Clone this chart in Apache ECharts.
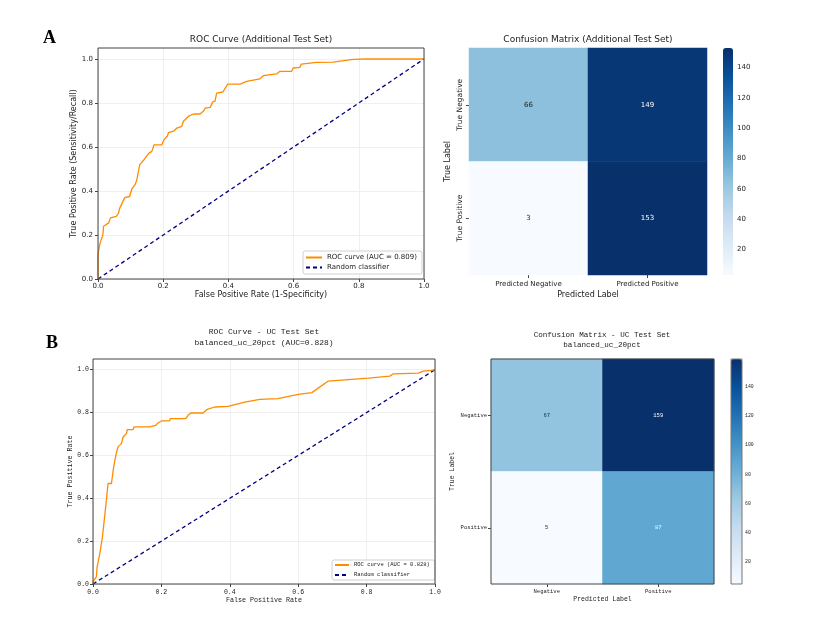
<!DOCTYPE html>
<html>
<head>
<meta charset="utf-8">
<script src="https://cdn.jsdelivr.net/npm/echarts@6/dist/echarts.min.js"></script>
<style>
  html, body { margin: 0; padding: 0; background: #fff; }
  #main { width: 832px; height: 621px; }
</style>
</head>
<body>
<div id="main"></div>
<script>
// ---- panel A : additional test set ----
var rocA_fpr = [0, 0, 0.005, 0.01, 0.015, 0.017, 0.033, 0.038, 0.056, 0.063, 0.066, 0.082, 0.097, 0.104, 0.114,
  0.119, 0.128, 0.14, 0.155, 0.165, 0.172, 0.196, 0.201, 0.213, 0.216, 0.232, 0.242, 0.257, 0.262, 0.278,
  0.293, 0.313, 0.323, 0.329, 0.344, 0.352, 0.359, 0.364, 0.383, 0.398, 0.436, 0.456, 0.497, 0.507, 0.548,
  0.558, 0.594, 0.599, 0.619, 0.624, 0.67, 0.721, 0.726, 0.783, 0.823, 1];
var rocA_tpr = [0, 0.11, 0.155, 0.18, 0.2, 0.24, 0.255, 0.278, 0.285, 0.3, 0.32, 0.37, 0.375, 0.41, 0.43,
  0.45, 0.52, 0.54, 0.57, 0.58, 0.61, 0.61, 0.63, 0.65, 0.665, 0.672, 0.686, 0.694, 0.717, 0.74,
  0.75, 0.75, 0.762, 0.777, 0.78, 0.805, 0.808, 0.845, 0.85, 0.886, 0.886, 0.898, 0.91, 0.924, 0.932,
  0.944, 0.944, 0.959, 0.962, 0.977, 0.985, 0.986, 0.992, 0.998, 1.0, 1.0];
var aucA = '0.809';
var cmA_x = ['Predicted Negative', 'Predicted Positive'];
var cmA_y = ['True Negative', 'True Positive'];
var cmA_values = [[66, 149], [3, 153]];

// ---- panel B : UC test set ----
var rocB_fpr = [0, 0, 0.01, 0.012, 0.02, 0.027, 0.034, 0.039, 0.044, 0.054, 0.059, 0.064, 0.068, 0.073, 0.083,
  0.088, 0.098, 0.1, 0.117, 0.12, 0.166, 0.171, 0.183, 0.19, 0.2, 0.224, 0.226, 0.271, 0.278, 0.286,
  0.322, 0.334, 0.356, 0.395, 0.444, 0.488, 0.541, 0.6, 0.64, 0.688, 0.805, 0.808, 0.868, 0.878, 0.951,
  0.966, 0.99, 1.0];
var rocB_tpr = [0, 0.01, 0.034, 0.08, 0.143, 0.213, 0.313, 0.39, 0.469, 0.469, 0.531, 0.578, 0.609, 0.64, 0.655,
  0.686, 0.702, 0.72, 0.72, 0.733, 0.733, 0.74, 0.74, 0.751, 0.761, 0.761, 0.772, 0.772, 0.787, 0.798,
  0.798, 0.815, 0.826, 0.829, 0.849, 0.862, 0.865, 0.885, 0.893, 0.947, 0.961, 0.97, 0.97, 0.981, 0.984,
  0.993, 0.997, 1.0];
var aucB = '0.828';
var cmB_x = ['Negative', 'Positive'];
var cmB_y = ['Negative', 'Positive'];
var cmB_values = [[67, 159], [5, 87]];

var diagonal = [[0, 0], [1, 1]];
var rocTicks = [0, 0.2, 0.4, 0.6, 0.8, 1.0];
var cbTicks = [20, 40, 60, 80, 100, 120, 140];
var blues = ['#f7fbff', '#deebf7', '#c6dbef', '#9ecae1', '#6baed6', '#4292c6', '#2171b5', '#08519c', '#08306b'];

var FA = 'DejaVu Sans';
var FB = 'Liberation Mono';
var TXT = '#222';

function zip(xs, ys) {
  return xs.map(function (x, i) { return [x, ys[i]]; });
}
function cmRange(m) {
  var all = m[0].concat(m[1]);
  return [Math.min.apply(null, all), Math.max.apply(null, all)];
}
// heatmap cells; text colour flips on the darker half like the plotting libs do
function cmData(m, darkTxt, lightTxt) {
  var r = cmRange(m), mid = (r[0] + r[1]) / 2, out = [];
  m.forEach(function (row, yi) {
    row.forEach(function (v, xi) {
      out.push({ value: [xi, yi, v], label: { color: v < mid ? darkTxt : lightTxt } });
    });
  });
  return out;
}
function fmt1(v) { return v.toFixed(1); }

var rangeA = cmRange(cmA_values), rangeB = cmRange(cmB_values);
var nameRocA = 'ROC curve (AUC = ' + aucA + ')';
var nameRocB = 'ROC curve (AUC = ' + aucB + ')';

var chart = echarts.init(document.getElementById('main'), null, { renderer: 'canvas' });

// legend markers: plain line only, no point symbol
var legendNoSymbol = { color: 'transparent', borderColor: 'transparent', borderWidth: 0, opacity: 0 };

var option = {
  backgroundColor: '#fff',
  animation: false,
  grid: [
    { left: 98, top: 48, width: 326, height: 231, show: true, z: 5, backgroundColor: 'transparent', borderColor: '#444', borderWidth: 1 },
    { left: 469, top: 48, width: 238, height: 227 },
    { left: 723, top: 48, width: 10, height: 227 },
    { left: 93, top: 359, width: 342, height: 225, show: true, z: 5, backgroundColor: 'transparent', borderColor: '#444', borderWidth: 1 },
    { left: 491, top: 359, width: 223, height: 225, show: true, z: 5, backgroundColor: 'transparent', borderColor: '#444', borderWidth: 1 },
    { left: 731, top: 359, width: 11, height: 225, show: true, z: 5, backgroundColor: 'transparent', borderColor: '#777', borderWidth: 1 }
  ],
  xAxis: [
    {
      gridIndex: 0, type: 'value', min: 0, max: 1, interval: 0.2,
      name: 'False Positive Rate (1-Specificity)', nameLocation: 'middle', nameGap: 12,
      nameTextStyle: { fontFamily: FA, fontSize: 8, color: TXT },
      axisLine: { show: false }, axisTick: { show: true, length: 3, lineStyle: { color: '#444' } },
      axisLabel: { fontFamily: FA, fontSize: 7, color: TXT, margin: 4, formatter: fmt1 },
      splitLine: { show: true, lineStyle: { color: '#ebebeb', width: 0.8 } }
    },
    {
      gridIndex: 1, type: 'category', data: cmA_x,
      name: 'Predicted Label', nameLocation: 'middle', nameGap: 16,
      nameTextStyle: { fontFamily: FA, fontSize: 8, color: TXT },
      axisLine: { show: false }, axisTick: { show: true, length: 3, alignWithLabel: true, lineStyle: { color: '#444' } },
      axisLabel: { fontFamily: FA, fontSize: 7, color: TXT, margin: 6 },
      splitLine: { show: false }
    },
    { gridIndex: 2, type: 'value', show: false, min: 0, max: 1 },
    {
      gridIndex: 3, type: 'value', min: 0, max: 1, interval: 0.2,
      name: 'False Positive Rate', nameLocation: 'middle', nameGap: 12,
      nameTextStyle: { fontFamily: FB, fontSize: 6.7, color: TXT },
      axisLine: { show: false }, axisTick: { show: true, length: 3, lineStyle: { color: '#444' } },
      axisLabel: { fontFamily: FB, fontSize: 6.5, color: TXT, margin: 4.5, formatter: fmt1 },
      splitLine: { show: true, lineStyle: { color: '#ebebeb', width: 0.8 } }
    },
    {
      gridIndex: 4, type: 'category', data: cmB_x,
      name: 'Predicted Label', nameLocation: 'middle', nameGap: 12,
      nameTextStyle: { fontFamily: FB, fontSize: 6.5, color: TXT },
      axisLine: { show: false }, axisTick: { show: true, length: 3, alignWithLabel: true, lineStyle: { color: '#444' } },
      axisLabel: { fontFamily: FB, fontSize: 5.5, color: TXT, margin: 4.5 },
      splitLine: { show: false }
    },
    { gridIndex: 5, type: 'value', show: false, min: 0, max: 1 }
  ],
  yAxis: [
    {
      gridIndex: 0, type: 'value', min: 0, max: 1.05, interval: 0.2,
      name: 'True Positive Rate (Sensitivity/Recall)', nameLocation: 'middle', nameGap: 18,
      nameTextStyle: { fontFamily: FA, fontSize: 8, color: TXT },
      axisLine: { show: false },
      axisTick: { show: true, length: 3, customValues: rocTicks, lineStyle: { color: '#444' } },
      axisLabel: { fontFamily: FA, fontSize: 7, color: TXT, margin: 5, customValues: rocTicks, formatter: fmt1 },
      splitLine: { show: true, lineStyle: { color: '#ebebeb', width: 0.8 } }
    },
    {
      gridIndex: 1, type: 'category', data: cmA_y, inverse: true,
      name: 'True Label', nameLocation: 'middle', nameGap: 17,
      nameTextStyle: { fontFamily: FA, fontSize: 8, color: TXT },
      axisLine: { show: false }, axisTick: { show: true, length: 3, alignWithLabel: true, lineStyle: { color: '#444' } },
      axisLabel: { fontFamily: FA, fontSize: 7.5, color: TXT, margin: 5, rotate: 90 },
      splitLine: { show: false }
    },
    {
      gridIndex: 2, type: 'value', position: 'right', min: rangeA[0], max: rangeA[1],
      axisLine: { show: false },
      axisTick: { show: true, length: 2, customValues: cbTicks, lineStyle: { color: '#444' } },
      axisLabel: { fontFamily: FA, fontSize: 7, color: TXT, margin: 4, customValues: cbTicks },
      splitLine: { show: false }
    },
    {
      gridIndex: 3, type: 'value', min: 0, max: 1.05, interval: 0.2,
      name: 'True Positive Rate', nameLocation: 'middle', nameGap: 17,
      nameTextStyle: { fontFamily: FB, fontSize: 6.7, color: TXT },
      axisLine: { show: false },
      axisTick: { show: true, length: 3, customValues: rocTicks, lineStyle: { color: '#444' } },
      axisLabel: { fontFamily: FB, fontSize: 6.5, color: TXT, margin: 4, customValues: rocTicks, formatter: fmt1 },
      splitLine: { show: true, lineStyle: { color: '#ebebeb', width: 0.8 } }
    },
    {
      gridIndex: 4, type: 'category', data: cmB_y, inverse: true,
      name: 'True Label', nameLocation: 'middle', nameGap: 35,
      nameTextStyle: { fontFamily: FB, fontSize: 6.5, color: TXT },
      axisLine: { show: false }, axisTick: { show: true, length: 3, alignWithLabel: true, lineStyle: { color: '#444' } },
      axisLabel: { fontFamily: FB, fontSize: 5.5, color: TXT, margin: 4 },
      splitLine: { show: false }
    },
    {
      gridIndex: 5, type: 'value', position: 'right', min: rangeB[0], max: rangeB[1],
      axisLine: { show: false },
      axisTick: { show: true, length: 2, customValues: cbTicks, lineStyle: { color: '#444' } },
      axisLabel: { fontFamily: FB, fontSize: 4.8, color: TXT, margin: 3, customValues: cbTicks },
      splitLine: { show: false }
    }
  ],
  visualMap: [
    {
      type: 'continuous', seriesIndex: 2, min: rangeA[0], max: rangeA[1],
      inRange: { color: blues }, calculable: false, hoverLink: false, padding: 0,
      left: 723, top: 48, itemWidth: 10, itemHeight: 227, orient: 'vertical'
    },
    {
      type: 'continuous', seriesIndex: 5, min: rangeB[0], max: rangeB[1],
      inRange: { color: blues }, calculable: false, hoverLink: false, padding: 0,
      left: 731, top: 359, itemWidth: 11, itemHeight: 225, orient: 'vertical'
    }
  ],
  legend: [
    {
      orient: 'vertical', left: 303, top: 251, itemWidth: 16, itemHeight: 8, itemGap: 3,
      padding: [3, 5, 3, 2], backgroundColor: '#fff', borderColor: '#d0d0d0', borderWidth: 1, borderRadius: 2,
      textStyle: { fontFamily: FA, fontSize: 7, color: TXT },
      itemStyle: legendNoSymbol,
      data: [nameRocA, 'Random classifier']
    },
    {
      orient: 'vertical', left: 332, top: 560, itemWidth: 14, itemHeight: 6, itemGap: 4,
      padding: [2, 5, 2, 2], backgroundColor: '#fff', borderColor: '#d0d0d0', borderWidth: 1, borderRadius: 2,
      textStyle: { fontFamily: FB, fontSize: 5.5, color: TXT },
      itemStyle: legendNoSymbol,
      data: [nameRocB, 'Random classifier']
    }
  ],
  series: [
    {
      name: nameRocA, type: 'line', xAxisIndex: 0, yAxisIndex: 0, data: zip(rocA_fpr, rocA_tpr),
      symbol: 'none', lineStyle: { color: '#ff8c00', width: 1.3 }, itemStyle: { color: '#ff8c00' }, z: 3
    },
    {
      name: 'Random classifier', type: 'line', xAxisIndex: 0, yAxisIndex: 0, data: diagonal,
      symbol: 'none', lineStyle: { color: '#000080', width: 1.3, type: [4, 3] }, itemStyle: { color: '#000080' }, z: 2
    },
    {
      name: 'cmA', type: 'heatmap', xAxisIndex: 1, yAxisIndex: 1,
      data: cmData(cmA_values, '#262626', '#ffffff'),
      label: { show: true, fontFamily: FA, fontSize: 7 }
    },
    {
      name: nameRocB, type: 'line', xAxisIndex: 3, yAxisIndex: 3, data: zip(rocB_fpr, rocB_tpr),
      symbol: 'none', lineStyle: { color: '#ff8c00', width: 1.3 }, itemStyle: { color: '#ff8c00' }, z: 3
    },
    {
      name: 'Random classifier', type: 'line', xAxisIndex: 3, yAxisIndex: 3, data: diagonal,
      symbol: 'none', lineStyle: { color: '#000080', width: 1.3, type: [4, 3] }, itemStyle: { color: '#000080' }, z: 2
    },
    {
      name: 'cmB', type: 'heatmap', xAxisIndex: 4, yAxisIndex: 4,
      data: cmData(cmB_values, '#08306b', '#f7fbff'),
      label: { show: true, fontFamily: FB, fontSize: 5.5 }
    }
  ],
  graphic: [
    { type: 'text', x: 49.5, y: 38.5, style: { text: 'A', font: 'bold 18px "Liberation Serif"', fill: '#000', align: 'center', verticalAlign: 'middle' } },
    { type: 'text', x: 52, y: 343.5, style: { text: 'B', font: 'bold 18px "Liberation Serif"', fill: '#000', align: 'center', verticalAlign: 'middle' } },
    { type: 'text', x: 261, y: 40, style: { text: 'ROC Curve (Additional Test Set)', font: '9px "DejaVu Sans"', fill: TXT, align: 'center', verticalAlign: 'middle' } },
    { type: 'text', x: 588, y: 40, style: { text: 'Confusion Matrix (Additional Test Set)', font: '9px "DejaVu Sans"', fill: TXT, align: 'center', verticalAlign: 'middle' } },
    { type: 'text', x: 264, y: 332, style: { text: 'ROC Curve - UC Test Set', font: '8px "Liberation Mono"', fill: TXT, align: 'center', verticalAlign: 'middle' } },
    { type: 'text', x: 264, y: 343, style: { text: 'balanced_uc_20pct (AUC=' + aucB + ')', font: '8px "Liberation Mono"', fill: TXT, align: 'center', verticalAlign: 'middle' } },
    { type: 'text', x: 602, y: 335, style: { text: 'Confusion Matrix - UC Test Set', font: '7.6px "Liberation Mono"', fill: TXT, align: 'center', verticalAlign: 'middle' } },
    { type: 'text', x: 602, y: 345, style: { text: 'balanced_uc_20pct', font: '7.6px "Liberation Mono"', fill: TXT, align: 'center', verticalAlign: 'middle' } }
  ]
};

chart.setOption(option);
</script>
</body>
</html>
